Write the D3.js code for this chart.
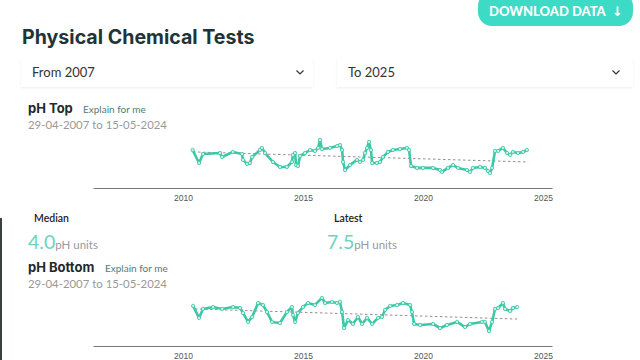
<!DOCTYPE html>
<html><head><meta charset="utf-8">
<script src="https://cdn.jsdelivr.net/npm/d3@7"></script>
<style>
html,body{margin:0;padding:0;background:#fff;}
svg{display:block;}
</style></head>
<body>
<svg id="c" width="640" height="360"></svg>
<script>
// ---- data (decimal years, pH) ----
const topYears = [2010.40,2010.67,2010.83,2011.54,2011.63,2012.08,2012.46,2012.50,2012.67,2012.79,2012.88,2013.21,2013.29,2013.42,2013.75,2014.04,2014.33,2014.54,2014.58,2014.67,2014.71,2014.79,2014.88,2015.08,2015.29,2015.50,2015.63,2015.71,2015.79,2016.13,2016.42,2016.54,2016.63,2016.67,2016.75,2016.96,2017.25,2017.38,2017.50,2017.58,2017.67,2017.75,2017.83,2017.88,2018.08,2018.21,2018.33,2018.54,2018.75,2019.04,2019.33,2019.42,2019.50,2019.75,2020.00,2020.42,2020.71,2020.79,2021.04,2021.25,2021.46,2021.83,2021.96,2022.08,2022.38,2022.58,2022.71,2022.79,2022.88,2023.00,2023.13,2023.33,2023.50,2023.63,2023.75,2023.96,2024.17,2024.33];
const topPH = [7.50,6.69,7.25,7.31,7.06,7.38,7.25,6.88,6.63,6.69,7.06,7.50,7.63,7.31,6.75,6.44,6.44,6.75,7.19,7.31,6.56,6.50,7.13,7.31,7.50,7.44,7.63,8.13,7.56,7.63,7.75,7.81,7.50,6.75,6.25,6.56,6.88,6.75,6.88,7.31,7.63,8.00,7.50,6.69,6.69,6.75,7.06,7.38,7.50,7.56,7.63,7.50,6.50,6.38,6.38,6.38,6.25,6.13,6.38,6.56,6.38,6.25,6.13,6.38,6.44,6.38,6.19,6.06,6.38,7.44,7.44,7.63,7.31,7.19,7.38,7.31,7.38,7.50];
const topTrendYears = [2010.42, 2024.38];
const topTrendPH = [7.38, 6.75];

const bottomYears = [2010.42,2010.67,2010.83,2011.25,2011.63,2012.08,2012.38,2012.50,2012.71,2012.88,2013.13,2013.33,2013.50,2013.71,2014.04,2014.33,2014.54,2014.58,2014.67,2014.79,2015.00,2015.21,2015.50,2015.79,2015.92,2016.21,2016.42,2016.54,2016.63,2016.71,2016.88,2017.08,2017.29,2017.46,2017.67,2017.88,2018.13,2018.29,2018.42,2018.63,2018.92,2019.17,2019.46,2019.54,2019.63,2019.88,2020.42,2020.71,2021.00,2021.42,2021.75,2021.96,2022.46,2022.58,2022.75,2022.88,2023.00,2023.13,2023.33,2023.42,2023.63,2023.75,2023.92];
const bottomPH = [7.63,6.88,7.44,7.56,7.44,7.56,7.50,7.19,6.63,6.94,7.81,7.69,7.25,6.63,6.56,7.25,7.56,7.06,6.63,7.19,7.56,7.81,7.69,8.13,7.81,7.88,7.81,7.88,7.25,6.25,6.75,6.50,6.94,6.50,6.88,6.50,6.88,6.94,7.38,7.63,7.69,7.81,7.69,7.25,6.50,6.44,6.50,6.25,6.44,6.63,6.31,6.50,6.63,6.63,6.06,6.63,7.44,7.50,7.81,7.44,7.31,7.50,7.56];
const bottomTrendYears = [2010.50, 2023.92];
const bottomTrendPH = [7.44, 6.81];

const tickYears = [2010, 2015, 2020, 2025];
const xDomain = [2006.25, 2025.375];
const yDomain = [5, 8.75];

const stats = [
  {label: "Median", value: "4.0", unit: "pH units"},
  {label: "Latest", value: "7.5", unit: "pH units"}
];

// ---- drawing ----
const svg = d3.select("#c");
const TEAL = "#3cc7a6";

// left edge strip
svg.append("rect").attr("x",0).attr("y",218).attr("width",2).attr("height",142).attr("fill","#3a3f3f");

// download button
const btn = svg.append("g");
btn.append("rect").attr("x",478).attr("y",-8).attr("width",155).attr("height",34).attr("rx",14).attr("fill","#3ddac6");
btn.append("text").attr("x",489).attr("y",16).attr("font-family","Lato, sans-serif").attr("font-weight",900)
  .attr("font-size",13).attr("fill","#fff").text("DOWNLOAD DATA");
btn.append("text").attr("x",612).attr("y",16).attr("font-family","DejaVu Sans, sans-serif").attr("font-weight",700)
  .attr("font-size",13).attr("fill","#fff").text("↓");

// title
svg.append("text").attr("x",22).attr("y",44).attr("font-family","Inter, sans-serif").attr("font-weight",700)
  .attr("font-size",19.6).attr("fill","#1f3438").text("Physical Chemical Tests");

// dropdowns
const defs = svg.append("defs");
const f = defs.append("filter").attr("id","sh").attr("x","-5%").attr("y","-30%").attr("width","110%").attr("height","160%");
f.append("feDropShadow").attr("dx",0).attr("dy",1).attr("stdDeviation",1.2).attr("flood-color","#000").attr("flood-opacity",0.07);
[{x:21,w:292,t:"From 2007",cx:300},{x:337,w:296,t:"To 2025",cx:616}].forEach(d=>{
  svg.append("rect").attr("x",d.x).attr("y",59).attr("width",d.w).attr("height",28).attr("fill","#fff").attr("filter","url(#sh)");
  svg.append("text").attr("x",d.x+11).attr("y",77).attr("font-family","Lato, sans-serif").attr("font-size",13)
    .attr("fill","#333").text(d.t);
  svg.append("path").attr("d",`M${d.cx-3.5},${70.5}L${d.cx},${74}L${d.cx+3.5},${70.5}`)
    .attr("fill","none").attr("stroke","#333").attr("stroke-width",1.2);
});

const x = d3.scaleLinear().domain(xDomain).range([93, 552]);

function panel(title, explainX, titleY, years, vals, tYears, tVals, axisY) {
  svg.append("text").attr("x",28).attr("y",titleY).attr("font-family","Inter, sans-serif").attr("font-weight",700)
    .attr("font-size",13).attr("fill","#1e2a2c").text(title);
  svg.append("text").attr("x",explainX).attr("y",titleY).attr("font-family","Lato, sans-serif")
    .attr("font-size",10).attr("fill","#4f7d79").text("Explain for me");
  svg.append("text").attr("x",28).attr("y",titleY+16).attr("font-family","Lato, sans-serif")
    .attr("font-size",11.4).attr("fill","#999").text("29-04-2007 to 15-05-2024");

  const y = d3.scaleLinear().domain(yDomain).range([axisY+2, axisY-58]);
  const g = svg.append("g");
  g.append("g").attr("transform",`translate(0,${axisY})`)
    .call(d3.axisBottom(x).tickValues(tickYears).tickFormat(d3.format("d")).tickSize(0).tickPadding(7))
    .call(a=>a.select(".domain").attr("stroke","#777").attr("stroke-width",1))
    .call(a=>a.selectAll("text").attr("font-family","Liberation Sans, Arial, sans-serif").attr("font-size",8.5).attr("fill","#555"));

  const tr = tYears.map((d,i)=>[d,tVals[i]]);
  g.append("path").datum(tr).attr("fill","none").attr("stroke","#8a7f7f").attr("stroke-width",0.9)
    .attr("stroke-dasharray","2.5,2.5").attr("d", d3.line().x(d=>x(d[0])).y(d=>y(d[1])));

  const pts = years.map((d,i)=>[d,vals[i]]);
  g.append("path").datum(pts).attr("fill","none").attr("stroke",TEAL).attr("stroke-width",2.6)
    .attr("stroke-linejoin","round").attr("d", d3.line().x(d=>x(d[0])).y(d=>y(d[1])));
  g.selectAll("circle").data(pts).join("circle").attr("cx",d=>x(d[0])).attr("cy",d=>y(d[1])).attr("r",1.7)
    .attr("fill","#c4f1e5").attr("stroke",TEAL).attr("stroke-width",0.8);
}

panel("pH Top", 83, 113, topYears, topPH, topTrendYears, topTrendPH, 188);

// stats
[{x:34,vx:28},{x:334,vx:327}].forEach((p,i)=>{
  const s = stats[i];
  svg.append("text").attr("x",p.x).attr("y",222).attr("font-family","Lato, sans-serif").attr("font-weight",600)
    .attr("font-size",10.5).attr("fill","#222").text(s.label);
  const t = svg.append("text").attr("x",p.vx).attr("y",249).attr("font-family","Lato, sans-serif");
  t.append("tspan").attr("font-size",19.5).attr("fill","#6dd3c2").text(s.value);
  t.append("tspan").attr("font-size",11.5).attr("fill","#9a9a9a").text(s.unit);
});

panel("pH Bottom", 105, 272, bottomYears, bottomPH, bottomTrendYears, bottomTrendPH, 346);
</script>
</body></html>
